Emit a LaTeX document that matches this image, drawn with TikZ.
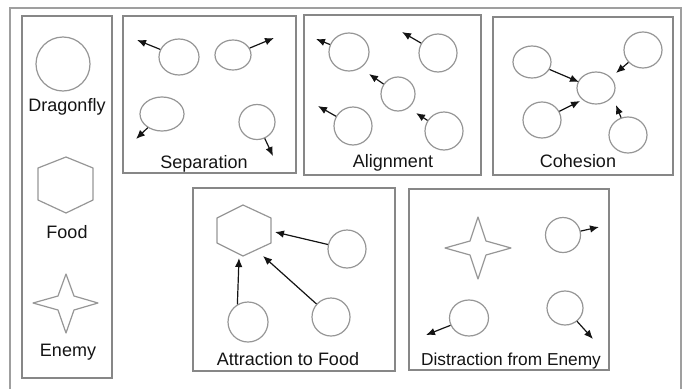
\documentclass[tikz,border=0pt]{standalone}
\usepackage{fontspec}
\setmainfont{Liberation Sans}
\usetikzlibrary{arrows.meta,shapes.geometric}
\definecolor{boxgray}{RGB}{135,135,135}
\definecolor{circgray}{RGB}{150,150,150}
\definecolor{ink}{RGB}{20,20,20}
\begin{document}
\begin{tikzpicture}[x=1pt,y=-1pt,
  panel/.style={draw=boxgray, line width=1.2pt},
  outerframe/.style={draw=boxgray!80, line width=1.4pt},
  fly/.style={ellipse, draw=circgray, line width=1.2pt, inner sep=0pt},
  shapeline/.style={draw=circgray, line width=1.2pt, line join=round},
  mv/.style={-{Latex[length=9pt,width=7.5pt]}, line width=1.2pt, draw=ink},
  lbl/.style={font=\fontsize{18}{20}\selectfont, text=ink, inner sep=0pt, anchor=base}]
\useasboundingbox (0,0) rectangle (682,388);
\clip (0,0) rectangle (682,388);
% outer frame
\draw[outerframe] (10,8) rectangle (681,400);
% panels
\draw[panel] (22,16) rectangle (112,378);
\draw[panel] (123,16) rectangle (296,173);
\draw[panel] (304,15) rectangle (481,175);
\draw[panel] (493,17) rectangle (673,175);
\draw[panel] (193,188) rectangle (395,371);
\draw[panel] (409,189) rectangle (609,370);

% legend
\node[fly, minimum width=54pt, minimum height=54pt] (legfly) at (63,64) {};
\node[lbl] (legflylbl) at (67,111) {Dragonfly};
\draw[shapeline] (66,157) -- (93,168) -- (93,200) -- (66,213) -- (38,200) -- (38,168) -- cycle;
\node[lbl] (legfoodlbl) at (67,238) {Food};
\draw[shapeline] (66,274) -- (74,296) -- (98,303) -- (74,310) -- (66,333) -- (58,310) -- (33,303) -- (58,296) -- cycle;
\node[lbl] (legenemylbl) at (68,356) {Enemy};

% separation
\node[fly, minimum width=40pt, minimum height=36pt] (s1) at (179,57) {};
\node[fly, minimum width=36pt, minimum height=30pt] (s2) at (233,55) {};
\node[fly, minimum width=44pt, minimum height=34pt] (s3) at (162,114) {};
\node[fly, minimum width=36pt, minimum height=35pt] (s4) at (257,122) {};
\coordinate (st1) at (137,40);
\coordinate (st2) at (274,38);
\coordinate (st3) at (136,139);
\coordinate (st4) at (273,156);
\draw[mv] (s1) -- (st1);
\draw[mv] (s2) -- (st2);
\draw[mv] (s3) -- (st3);
\draw[mv] (s4) -- (st4);
\node[lbl] (seplbl) at (204,168) {Separation};

% alignment
\node[fly, minimum width=40pt, minimum height=38pt] (a1) at (349,52) {};
\node[fly, minimum width=38pt, minimum height=38pt] (a2) at (438,53) {};
\node[fly, minimum width=34pt, minimum height=34pt] (a3) at (398,94) {};
\node[fly, minimum width=38pt, minimum height=38pt] (a4) at (353,126) {};
\node[fly, minimum width=38pt, minimum height=38pt] (a5) at (444,131) {};
\coordinate (at1) at (316,39);
\coordinate (at2) at (402,32);
\coordinate (at3) at (369,74);
\coordinate (at4) at (318,106);
\coordinate (at5) at (416,113);
\draw[mv] (a1) -- (at1);
\draw[mv] (a2) -- (at2);
\draw[mv] (a3) -- (at3);
\draw[mv] (a4) -- (at4);
\draw[mv] (a5) -- (at5);
\node[lbl] (alilbl) at (393,167) {Alignment};

% cohesion
\node[fly, minimum width=38pt, minimum height=32pt] (c0) at (596,88) {};
\node[fly, minimum width=38pt, minimum height=32pt] (c1) at (532,62) {};
\node[fly, minimum width=38pt, minimum height=36pt] (c2) at (643,50) {};
\node[fly, minimum width=38pt, minimum height=36pt] (c3) at (542,120) {};
\node[fly, minimum width=38pt, minimum height=36pt] (c4) at (628,135) {};
\coordinate (ct1) at (579,82);
\coordinate (ct2) at (616,73);
\coordinate (ct3) at (580,101);
\coordinate (ct4) at (616,105);
\draw[mv] (c1) -- (ct1);
\draw[mv] (c2) -- (ct2);
\draw[mv] (c3) -- (ct3);
\draw[mv] (c4) -- (ct4);
\node[lbl] (cohlbl) at (578,167) {Cohesion};

% attraction to food
\draw[shapeline] (243,205) -- (271,218) -- (271,243) -- (243,256) -- (217,243) -- (217,218) -- cycle;
\node[fly, minimum width=38pt, minimum height=38pt] (d1) at (347,249) {};
\node[fly, minimum width=40pt, minimum height=40pt] (d2) at (248,322) {};
\node[fly, minimum width=38pt, minimum height=38pt] (d3) at (331,317) {};
\coordinate (ft1) at (275,232);
\coordinate (ft2) at (239,258);
\coordinate (ft3) at (263,256);
\draw[mv] (d1) -- (ft1);
\draw[mv] (d2.121) -- (ft2);
\draw[mv] (d3) -- (ft3);
\node[lbl] (attlbl) at (288,365) {Attraction to Food};

% distraction from enemy
\draw[shapeline] (478,217) -- (486,241) -- (511,248) -- (486,255) -- (478,279) -- (470,255) -- (445,248) -- (470,241) -- cycle;
\node[fly, minimum width=35pt, minimum height=35pt] (e1) at (563,235) {};
\node[fly, minimum width=39pt, minimum height=36pt] (e2) at (469,318) {};
\node[fly, minimum width=36pt, minimum height=34pt] (e3) at (565,308) {};
\coordinate (et1) at (599,227);
\coordinate (et2) at (426,335);
\coordinate (et3) at (593,339);
\draw[mv] (e1) -- (et1);
\draw[mv] (e2) -- (et2);
\draw[mv] (e3) -- (et3);
\node[lbl, font=\fontsize{17.3}{19}\selectfont] (dislbl) at (511,365) {Distraction from Enemy};
\end{tikzpicture}
\end{document}
